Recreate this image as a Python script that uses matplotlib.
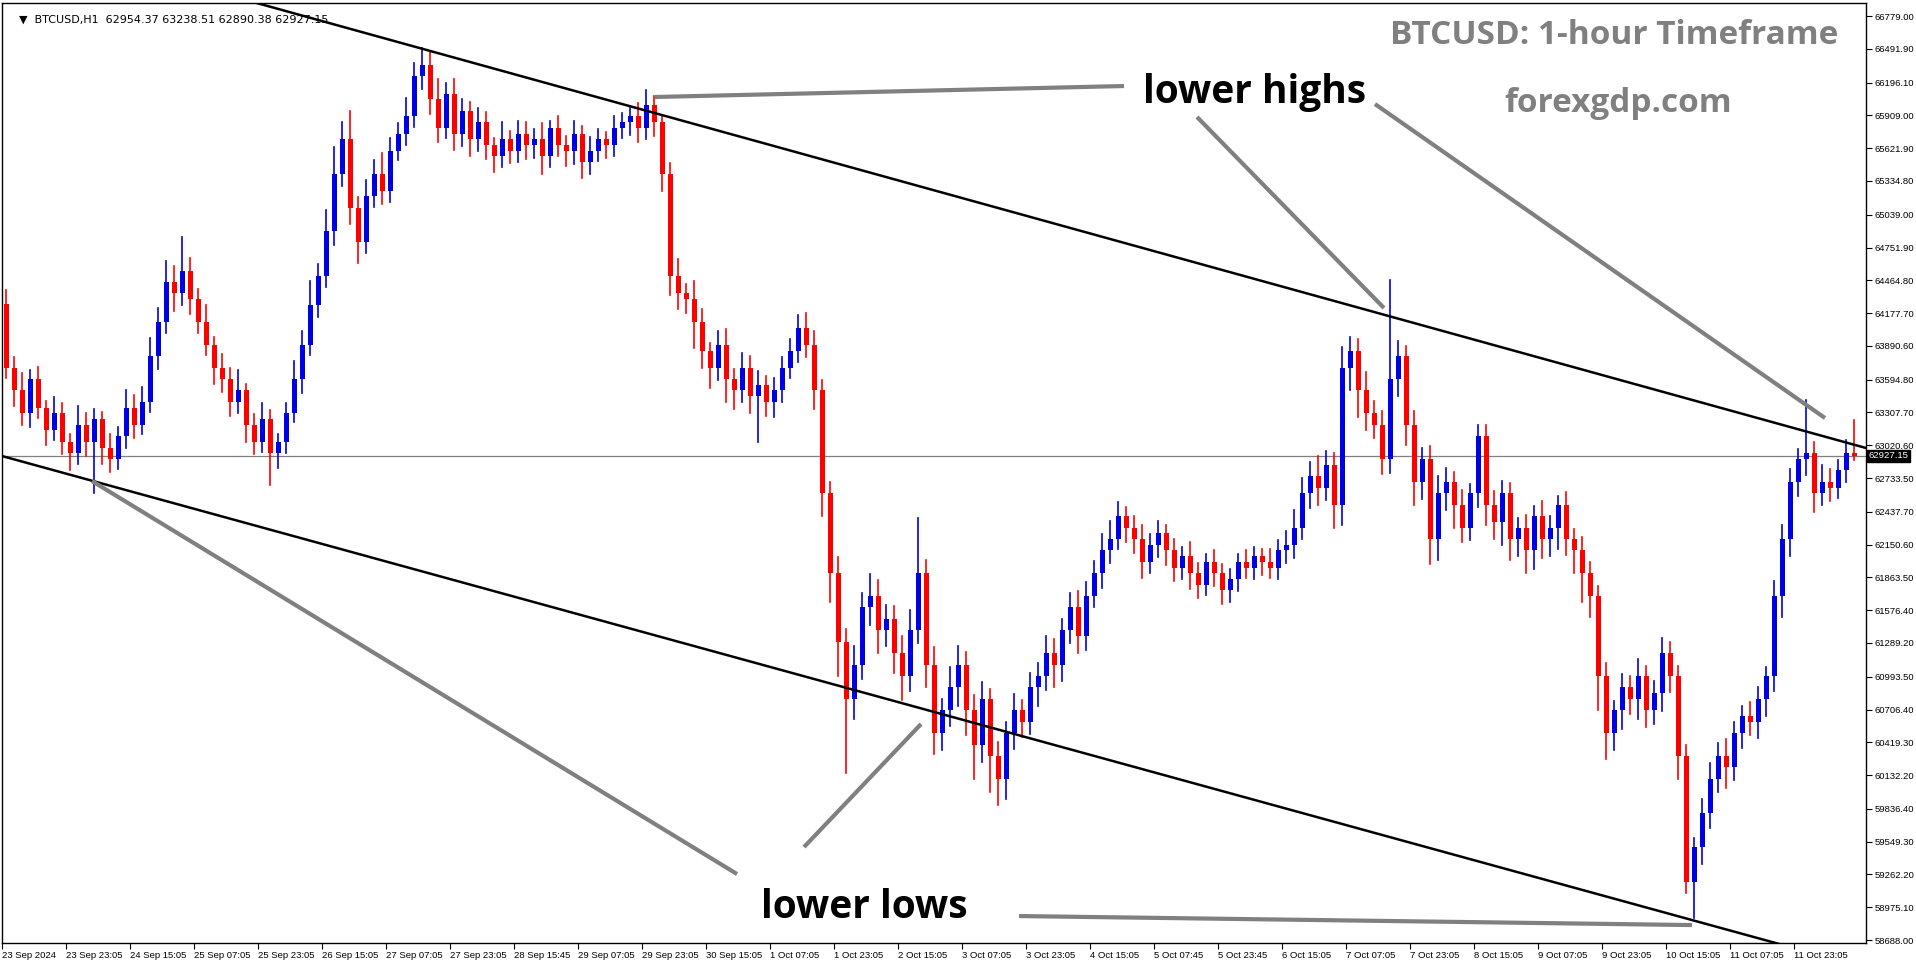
"""BTCUSD H1 falling channel chart (lower highs / lower lows)."""
import matplotlib
matplotlib.use("Agg")
import matplotlib.pyplot as plt
import numpy as np

# ── data: 2-hour candles ──
first_open = 64260
closes = [
    63700, 63500, 63300, 63600, 63350, 63150, 63300, 63050, 62950, 63200, 63050, 63250, 63000, 62900, 63100, 63350, 63200, 63400,
    63800, 64100, 64450, 64350, 64550, 64300,
    64100, 63900, 63700, 63600, 63400, 63500, 63200, 63050, 63250, 62950, 63050,
    63300, 63600, 63900, 64250, 64500, 64900, 65400, 65700,
    65100, 64800, 65200,
    65400, 65250, 65600, 65750, 65900, 66250, 66350, 66050,
    65800, 66100, 65750, 65950, 65700, 65850, 65650, 65550, 65700, 65600, 65750,
    65650, 65700, 65550, 65800, 65650, 65600, 65750, 65500, 65600, 65700, 65650, 65800, 65850, 65900, 65800,
    66000, 65850, 65400, 64500,
    64350, 64300, 64100, 63850, 63700,
    63900, 63600, 63500, 63700, 63450, 63550, 63400, 63500, 63700, 63850,
    64050, 63900,
    63500, 62600, 61900, 61300, 60800,
    61100, 61600, 61700, 61400, 61500, 61200, 61000, 61400, 61900,
    61100, 60500, 60700, 60900, 61100, 60700, 60400, 60800, 60300, 60100, 60500, 60700,
    60600, 60900, 61000, 61200, 61100, 61400, 61600, 61350, 61700, 61900, 62100,
    62200, 62400, 62300,
    62200, 62000, 62150, 62250, 62100, 61950, 62050, 61900, 61800, 62000, 61900, 61750,
    61850, 62000, 61950, 62050, 62000, 61950, 62100, 62150,
    62300, 62600, 62750, 62650, 62850, 62500,
    63700, 63850, 63500, 63300, 63200, 62900,
    63600, 63800,
    63200, 62700, 62900,
    62200, 62600, 62700, 62500, 62300, 62600, 63100,
    62500, 62350, 62600, 62200, 62300, 62100, 62400, 62200, 62300, 62500, 62200, 62100, 61900, 61700,
    61000, 60500, 60700,
    60900, 60800, 61000, 60700, 60850, 61200, 61000,
    60300, 59200, 59500,
    59800, 60100, 60300, 60200,
    60500, 60650, 60600, 60800, 61000,
    61700, 62200, 62700, 62900,
    62950, 62600, 62700, 62650, 62800,
    62950, 62927,
]
wick_up = [
    120, 90, 150, 80, 110, 60, 140, 90, 70, 160, 100, 90, 60, 120, 80, 150, 110, 130,
    160, 120, 180, 140, 290, 110,
    90, 150, 70, 120, 100, 180, 60, 90, 140, 80, 70,
    90, 160, 120, 210, 110, 180, 230, 150,
    250, 90, 140,
    120, 180, 110, 90, 160, 120, 150, 110,
    180, 90, 130, 100, 80, 120, 90, 60, 150, 70, 110,
    100, 90, 140, 60, 100, 80, 110, 70, 120, 90, 60, 100, 80, 70, 120,
    130, 80, 60, 90,
    150, 80, 160, 110, 70,
    120, 140, 90, 130, 100, 120, 80, 110, 90, 100,
    110, 130,
    120, 90, 100, 140, 110,
    160, 130, 190, 140, 120, 110, 150, 180, 480,
    120, 150, 100, 180, 160, 110, 130, 150, 90, 120, 100, 140,
    90, 130, 110, 150, 120, 100, 130, 140, 120, 110, 140,
    160, 120, 80,
    100, 120, 90, 110, 70, 100, 80, 120, 90, 70, 100, 80,
    90, 70, 100, 80, 60, 110, 90, 120,
    150, 130, 120, 180, 120, 100,
    180, 120, 100, 160, 110, 120,
    870, 130,
    90, 120, 100,
    110, 150, 120, 90, 130, 80, 100,
    100, 120, 110, 90, 80, 110, 90, 130, 100, 80, 110, 90, 120, 100,
    90, 110, 80,
    120, 100, 150, 90, 110, 130, 100,
    90, 100, 80,
    120, 140, 110, 150,
    100, 90, 120, 100, 80,
    130, 120, 110, 90,
    470, 100, 150, 110, 90,
    120, 290,
]
wick_dn = [
    90, 140, 100, 120, 90, 130, 80, 110, 150, 90, 120, 450, 140, 110, 90, 100, 120, 80,
    90, 110, 100, 150, 100, 130,
    100, 90, 140, 110, 120, 100, 150, 110, 90, 280, 130,
    100, 80, 120, 90, 110, 90, 130, 110,
    140, 180, 100,
    90, 120, 100, 80, 100, 90, 110, 130,
    120, 90, 140, 110, 150, 100, 120, 140, 90, 110, 100,
    120, 110, 150, 90, 100, 130, 120, 140, 100, 90, 110, 100, 90, 110, 120,
    100, 120, 150, 160,
    140, 120, 230, 150, 180,
    110, 200, 160, 100, 150, 400, 120, 130, 100, 90,
    100, 110,
    160, 200, 250, 300, 650,
    180, 130, 150, 200, 140, 170, 210, 130, 110,
    200, 180, 150, 140, 160, 220, 300, 150, 320, 230, 180, 140,
    130, 110, 160, 120, 200, 140, 110, 150, 120, 100, 130,
    110, 90, 130,
    120, 140, 100, 110, 130, 120, 100, 140, 120, 90, 110, 120,
    100, 110, 90, 100, 120, 90, 100, 110,
    120, 100, 130, 150, 110, 200,
    180, 200, 230, 150, 120, 130,
    120, 150,
    180, 200, 150,
    220, 180, 150, 200, 130, 110, 120,
    180, 150, 200, 180, 150, 200, 160, 170, 150, 190, 140, 200, 250, 180,
    300, 230, 150,
    160, 130, 180, 150, 120, 160, 140,
    200, 100, 320,
    150, 130, 120, 180,
    110, 130, 120, 140, 150,
    130, 180, 150, 120,
    140, 160, 100, 120, 90,
    100, 37,
]

price_ticks = [66779.00, 66491.90, 66196.10, 65909.00, 65621.90, 65334.80, 65039.00,
               64751.90, 64464.80, 64177.70, 63890.60, 63594.80, 63307.70, 63020.60,
               62733.50, 62437.70, 62150.60, 61863.50, 61576.40, 61289.20, 60993.50,
               60706.40, 60419.30, 60132.20, 59836.40, 59549.30, 59262.20, 58975.10,
               58688.00]
time_labels = ["23 Sep 2024", "23 Sep 23:05", "24 Sep 15:05", "25 Sep 07:05", "25 Sep 23:05",
               "26 Sep 15:05", "27 Sep 07:05", "27 Sep 23:05", "28 Sep 15:45", "29 Sep 07:05",
               "29 Sep 23:05", "30 Sep 15:05", "1 Oct 07:05", "1 Oct 23:05", "2 Oct 15:05",
               "3 Oct 07:05", "3 Oct 23:05", "4 Oct 15:05", "5 Oct 07:45", "5 Oct 23:45",
               "6 Oct 15:05", "7 Oct 07:05", "7 Oct 23:05", "8 Oct 15:05", "9 Oct 07:05",
               "9 Oct 23:05", "10 Oct 15:05", "11 Oct 07:05", "11 Oct 23:05"]
last_price = 62927.15

# channel lines and annotation pointers: (hour, price) pairs
resistance = [(61.0, 66919), (345.75, 64161)]
support = [(0.0, 62926), (422.5, 58863)]
pointers = [
    [(163.25, 66070), (280.5, 66166)],
    [(298.75, 65895), (345.5, 64222)],
    [(343.25, 66008), (455.75, 63259)],
    [(22.5, 62707), (183.75, 59266)],
    [(200.5, 59502), (229.75, 60579)],
    [(254.25, 58898), (422.5, 58819)],
]

plt.rcParams["font.family"] = ["DejaVu Sans"]
fig = plt.figure(figsize=(19.16, 9.64), dpi=100)
ax = fig.add_axes([2 / 1916, 1 - 943 / 964, 1864 / 1916, 940 / 964])

opens = [first_open] + closes[:-1]
for i, (o, c, wu, wd) in enumerate(zip(opens, closes, wick_up, wick_dn)):
    x = 2 * i + 1
    col = "#0000e6" if c >= o else "#ff0000"
    hi, lo = max(o, c) + wu, min(o, c) - wd
    ax.plot([x, x], [lo, hi], color=col, lw=1.2, zorder=3)
    ax.bar(x, max(abs(c - o), 15), bottom=min(o, c), width=1.25, color=col, zorder=4)

xs = np.array([0, 466])
for (x0, y0), (x1, y1) in [resistance, support]:
    k = (y1 - y0) / (x1 - x0)
    ax.plot(xs, y0 + k * (xs - x0), color="black", lw=1.8, zorder=5)
for (x0, y0), (x1, y1) in pointers:
    ax.plot([x0, x1], [y0, y1], color="#808080", lw=3, zorder=5, solid_capstyle="butt")

ax.axhline(last_price, color="#808080", lw=0.9, zorder=2)

tick_font = dict(family="Liberation Sans", size=6.8)
ax.set_xlim(0, 466)
ax.set_ylim(58662, 66893)
ax.yaxis.tick_right()
ax.set_yticks(price_ticks)
ax.set_yticklabels([f"{p:.2f}" for p in price_ticks], fontdict=tick_font)
ax.set_xticks(np.arange(len(time_labels)) * 16)
ax.set_xticklabels(time_labels, fontdict=tick_font, ha="left")
ax.tick_params(direction="out", length=4, width=0.8, pad=2)
for s in ax.spines.values():
    s.set_linewidth(1)

ax.text(1.0015, (last_price - 58662) / (66893 - 58662), f"{last_price:.2f}",
        transform=ax.transAxes, color="white", va="center", ha="left", fontdict=tick_font,
        bbox=dict(boxstyle="square,pad=0.15", fc="black", ec="black"))

ax.text(0.009, 0.988, "▼  BTCUSD,H1  62954.37 63238.51 62890.38 62927.15",
        transform=ax.transAxes, fontsize=8, va="top")
ax.text(0.985, 0.965, "BTCUSD: 1-hour Timeframe", transform=ax.transAxes,
        fontsize=24, fontweight="bold", color="#808080", ha="right", va="center",
        family="Open Sans")
ax.text(0.867, 0.893, "forexgdp.com", transform=ax.transAxes, fontsize=24,
        fontweight="bold", color="#808080", ha="center", va="center", family="Open Sans")
ax.text(0.612, 0.905, "lower highs", transform=ax.transAxes, fontsize=28,
        fontweight="bold", color="black", ha="left", va="center", family="Open Sans")
ax.text(0.407, 0.038, "lower lows", transform=ax.transAxes, fontsize=28,
        fontweight="bold", color="black", ha="left", va="center", family="Open Sans")

fig.savefig("out.png", dpi=100)
